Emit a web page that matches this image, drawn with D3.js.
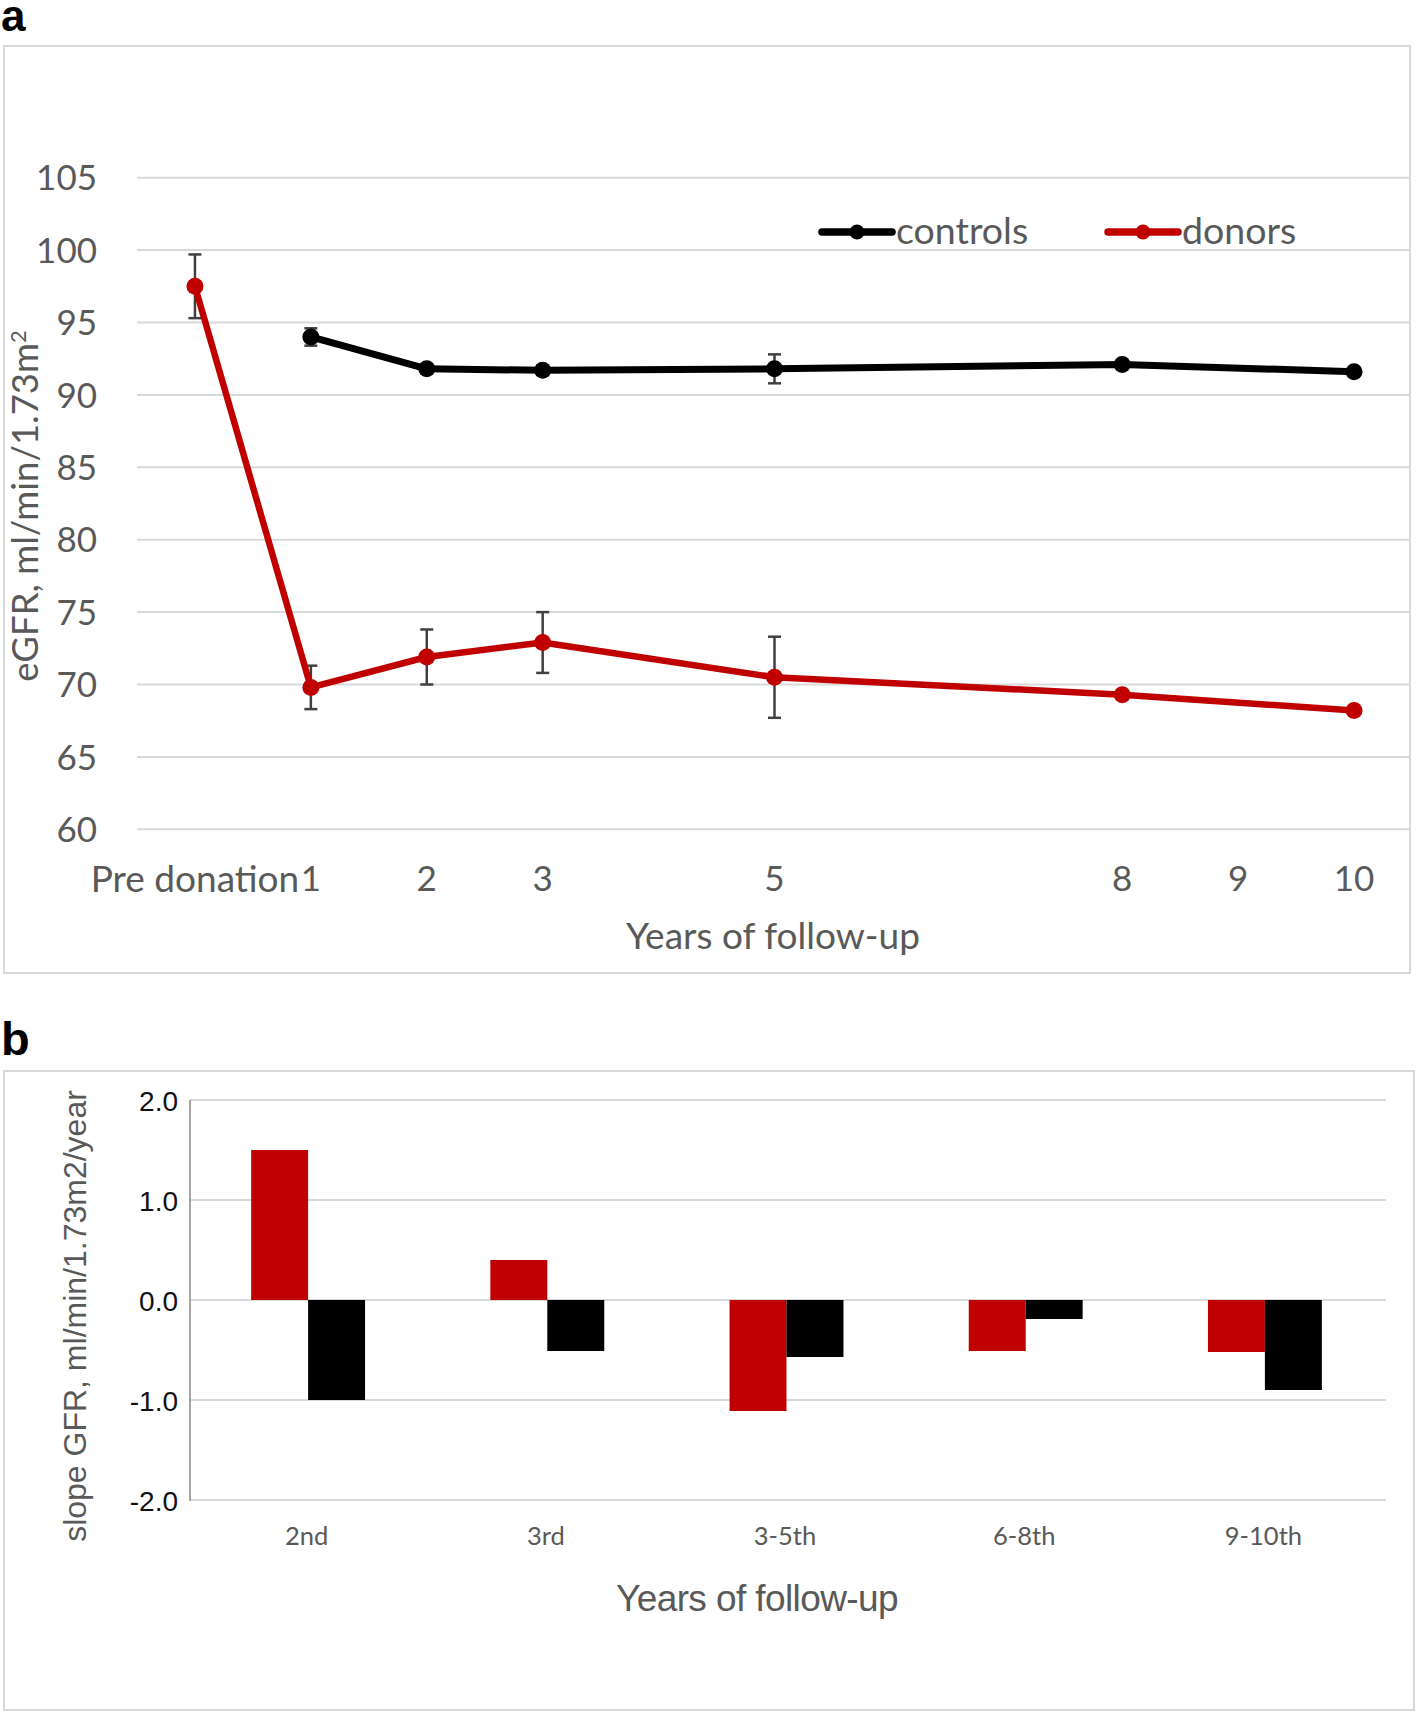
<!DOCTYPE html>
<html>
<head>
<meta charset="utf-8">
<script src="https://cdn.jsdelivr.net/npm/d3@7"></script>
<style>
  html, body { margin: 0; padding: 0; background: #fff; }
  svg { display: block; }
</style>
</head>
<body>
<script>
// ---------- Data: panel a ----------
const yearCategories = ["Pre donation", "1", "2", "3", "4", "5", "6", "7", "8", "9", "10"];
const yearTickLabels = ["Pre donation", "1", "2", "3", "", "5", "", "", "8", "9", "10"];
const donorsEGFR   = [97.5, 69.8, 71.9, 72.9, null, 70.5, null, null, 69.3, null, 68.2];
const donorsErr    = [2.2, 1.5, 1.9, 2.1, null, 2.8, null, null, 0, null, 0];
const controlsEGFR = [null, 94.0, 91.8, 91.7, null, 91.8, null, null, 92.1, null, 91.6];
const controlsErr  = [null, 0.6, 0.3, 0.3, null, 1.0, null, null, 0, null, 0];
const eGFRTicks = [60, 65, 70, 75, 80, 85, 90, 95, 100, 105];

// ---------- Data: panel b ----------
const slopePeriods  = ["2nd", "3rd", "3-5th", "6-8th", "9-10th"];
const donorsSlope   = [1.50, 0.40, -1.11, -0.51, -0.52];
const controlsSlope = [-1.00, -0.51, -0.57, -0.19, -0.90];
const slopeTicks = [-2.0, -1.0, 0.0, 1.0, 2.0];

const RED = "#C00000", BLACK = "#000000", GRID = "#d9d9d9", TXT = "#595959";
const CAL = "Lato, 'Open Sans', sans-serif";
const ARIAL = "'Liberation Sans', Arial, sans-serif";

const svg = d3.select("body").append("svg")
  .attr("width", 1418).attr("height", 1714);
svg.append("rect").attr("width", 1418).attr("height", 1714).attr("fill", "#fff");

// ================= PANEL A =================
svg.append("text").attr("x", 1).attr("y", 31)
  .attr("font-family", ARIAL).attr("font-weight", "bold").attr("font-size", 44)
  .attr("fill", "#000").text("a");
svg.append("rect").attr("x", 4).attr("y", 46).attr("width", 1406).attr("height", 927)
  .attr("fill", "none").attr("stroke", GRID).attr("stroke-width", 2);

const xA = d3.scaleBand().domain(yearCategories).range([137, 1412]).padding(0);
const cx = d => xA(d) + xA.bandwidth() / 2;
const yA = d3.scaleLinear().domain([60, 105]).range([829.3, 177.7]);

const gA = svg.append("g");
gA.append("g").selectAll("line").data(eGFRTicks).join("line")
  .attr("x1", 137).attr("x2", 1409)
  .attr("y1", d => yA(d)).attr("y2", d => yA(d))
  .attr("stroke", GRID).attr("stroke-width", 2);

const yAxisA = d3.axisLeft(yA).tickValues(eGFRTicks).tickSize(0).tickPadding(0);
const gyA = gA.append("g").attr("transform", "translate(97,0)").call(yAxisA);
gyA.select(".domain").remove();
gyA.selectAll("text").attr("font-family", CAL).attr("font-size", 35).attr("fill", TXT)
  .attr("dy", "0.35em");

const xAxisA = d3.axisBottom(xA).tickFormat((d, i) => yearTickLabels[i]).tickSize(0).tickPadding(0);
const gxA = gA.append("g").attr("transform", "translate(0,866)").call(xAxisA);
gxA.select(".domain").remove();
gxA.selectAll("text").attr("font-family", CAL).attr("font-size", d => d === "Pre donation" ? 37 : 35)
  .attr("fill", TXT).attr("dy", "0.71em");

gA.append("text").attr("x", 773).attr("y", 949).attr("text-anchor", "middle")
  .attr("font-family", CAL).attr("font-size", 37).attr("fill", TXT).text("Years of follow-up");
const yt = gA.append("text").attr("transform", "translate(38,506) rotate(-90)")
  .attr("text-anchor", "middle").attr("font-family", CAL).attr("font-size", 36.5).attr("fill", TXT);
yt.append("tspan").text("eGFR, ml/min/1.73m");
yt.append("tspan").attr("font-size", 22).attr("dy", -12).text("2");

function drawSeries(vals, errs, color, lw) {
  const pts = yearCategories.map((c, i) => ({c, v: vals[i], e: errs[i]})).filter(p => p.v != null);
  const eb = pts.filter(p => p.e > 0);
  gA.append("g").selectAll("line").data(eb).join("line")
    .attr("x1", p => cx(p.c)).attr("x2", p => cx(p.c))
    .attr("y1", p => yA(p.v + p.e)).attr("y2", p => yA(p.v - p.e))
    .attr("stroke", "#404040").attr("stroke-width", 2.5);
  ["top", "bot"].forEach(k => {
    gA.append("g").selectAll("line").data(eb).join("line")
      .attr("x1", p => cx(p.c) - 6.5).attr("x2", p => cx(p.c) + 6.5)
      .attr("y1", p => yA(k === "top" ? p.v + p.e : p.v - p.e))
      .attr("y2", p => yA(k === "top" ? p.v + p.e : p.v - p.e))
      .attr("stroke", "#404040").attr("stroke-width", 2.5);
  });
  const line = d3.line().x(p => cx(p.c)).y(p => yA(p.v));
  gA.append("path").datum(pts).attr("d", line).attr("fill", "none")
    .attr("stroke", color).attr("stroke-width", lw).attr("stroke-linejoin", "round");
  gA.append("g").selectAll("circle").data(pts).join("circle")
    .attr("cx", p => cx(p.c)).attr("cy", p => yA(p.v)).attr("r", 8.5).attr("fill", color);
}
drawSeries(controlsEGFR, controlsErr, BLACK, 7);
drawSeries(donorsEGFR, donorsErr, RED, 6.5);

const legend = [{name: "controls", color: BLACK, x: 822}, {name: "donors", color: RED, x: 1108}];
const lg = gA.append("g").selectAll("g").data(legend).join("g")
  .attr("transform", d => `translate(${d.x},232)`);
lg.append("line").attr("x1", 0).attr("x2", 70).attr("y1", 0).attr("y2", 0)
  .attr("stroke", d => d.color).attr("stroke-width", 7.5).attr("stroke-linecap", "round");
lg.append("circle").attr("cx", 35).attr("cy", 0).attr("r", 7.5).attr("fill", d => d.color);
lg.append("text").attr("x", 74).attr("y", 12).attr("font-family", CAL).attr("font-size", 37.5)
  .attr("fill", TXT).text(d => d.name);

// ================= PANEL B =================
svg.append("text").attr("x", 1).attr("y", 1055)
  .attr("font-family", ARIAL).attr("font-weight", "bold").attr("font-size", 47)
  .attr("fill", "#000").text("b");
svg.append("rect").attr("x", 4).attr("y", 1071).attr("width", 1410).attr("height", 639)
  .attr("fill", "none").attr("stroke", GRID).attr("stroke-width", 2);

const xB = d3.scaleBand().domain(slopePeriods).range([190, 1386]).paddingInner(0).paddingOuter(0);
const sub = d3.scaleBand().domain(["donors", "controls"]).range([0, xB.bandwidth()]).paddingInner(0).paddingOuter(1.1);
const yB = d3.scaleLinear().domain([-2, 2]).range([1500, 1100]);

const gB = svg.append("g");
gB.append("g").selectAll("line").data(slopeTicks).join("line")
  .attr("x1", 190).attr("x2", 1386)
  .attr("y1", d => yB(d)).attr("y2", d => yB(d))
  .attr("stroke", GRID).attr("stroke-width", 2);

const yAxisB = d3.axisLeft(yB).tickValues(slopeTicks).tickFormat(d3.format(".1f")).tickSize(0).tickPadding(0);
const gyB = gB.append("g").attr("transform", "translate(178,0)").call(yAxisB);
gyB.select(".domain").remove();
gyB.selectAll("text").attr("font-family", ARIAL).attr("font-size", 28).attr("fill", "#111")
  .attr("dy", "0.36em").text(d => d3.format(".1f")(d).replace("−", "-"));

gB.append("line").attr("x1", 190).attr("x2", 190).attr("y1", 1100).attr("y2", 1501)
  .attr("stroke", "#a6a6a6").attr("stroke-width", 2);

const xAxisB = d3.axisBottom(xB).tickSize(0).tickPadding(0);
const gxB = gB.append("g").attr("transform", "translate(-3,1527)").call(xAxisB);
gxB.select(".domain").remove();
gxB.selectAll("text").attr("font-family", CAL).attr("font-size", 25.5).attr("fill", TXT)
  .attr("dy", "0.71em");

const barData = [];
slopePeriods.forEach((p, i) => {
  barData.push({p, s: "donors", v: donorsSlope[i], color: RED});
  barData.push({p, s: "controls", v: controlsSlope[i], color: BLACK});
});
gB.append("g").selectAll("rect").data(barData).join("rect")
  .attr("x", d => xB(d.p) + sub(d.s) - 1.5)
  .attr("width", sub.bandwidth())
  .attr("y", d => yB(Math.max(0, d.v)))
  .attr("height", d => Math.abs(yB(d.v) - yB(0)))
  .attr("fill", d => d.color);

gB.append("text").attr("x", 757).attr("y", 1611).attr("text-anchor", "middle")
  .attr("font-family", ARIAL).attr("font-size", 37).attr("letter-spacing", -0.6).attr("fill", TXT)
  .text("Years of follow-up");
gB.append("text").attr("transform", "translate(86,1316) rotate(-90)").attr("text-anchor", "middle")
  .attr("font-family", ARIAL).attr("font-size", 32).attr("fill", TXT)
  .text("slope GFR, ml/min/1.73m2/year");
</script>
</body>
</html>
